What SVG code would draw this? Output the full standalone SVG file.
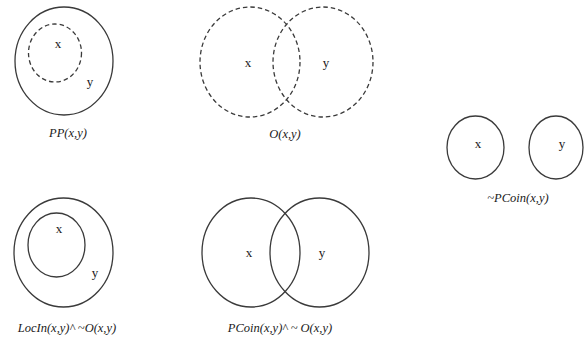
<svg xmlns="http://www.w3.org/2000/svg" width="585" height="338" viewBox="0 0 585 338">
<style>
.c{fill:none;stroke:#3a3a3a;stroke-width:1.3}
.d{stroke-dasharray:4.5 3}
.t{font-family:"Liberation Serif","Times New Roman",serif;font-size:13px;fill:#1a1a1a;text-anchor:middle}
.l{font-family:"Liberation Serif","Times New Roman",serif;font-size:12.5px;font-style:italic;fill:#1a1a1a;text-anchor:middle}
</style>
<rect width="585" height="338" fill="#fff"/>
<g id="pp">
<ellipse class="c" cx="64" cy="61" rx="49" ry="54"/>
<ellipse class="c d" cx="55" cy="53" rx="26.5" ry="29"/>
<text class="t" x="58" y="48">x</text>
<text class="t" x="90" y="86">y</text>
<text class="l" x="68" y="137">PP(x,y)</text>
</g>
<g id="o">
<ellipse class="c d" cx="250" cy="62" rx="50" ry="55"/>
<ellipse class="c d" cx="323" cy="62" rx="50" ry="55"/>
<text class="t" x="248" y="67">x</text>
<text class="t" x="326" y="67">y</text>
<text class="l" x="285" y="138">O(x,y)</text>
</g>
<g id="notpcoin">
<ellipse class="c" cx="475.5" cy="147.5" rx="28.5" ry="31.5"/>
<ellipse class="c" cx="556" cy="147.5" rx="27" ry="31.5"/>
<text class="t" x="478" y="148">x</text>
<text class="t" x="562" y="148">y</text>
<text class="l" x="518" y="202">~PCoin(x,y)</text>
</g>
<g id="locin">
<ellipse class="c" cx="63.5" cy="252.5" rx="49.5" ry="54.5"/>
<ellipse class="c" cx="56.5" cy="245" rx="28.5" ry="32"/>
<text class="t" x="59" y="233">x</text>
<text class="t" x="95" y="277">y</text>
<text class="l" x="67" y="332">LocIn(x,y)^ ~O(x,y)</text>
</g>
<g id="pcoin">
<ellipse class="c" cx="251" cy="252.5" rx="49" ry="54.5"/>
<ellipse class="c" cx="319.5" cy="252.5" rx="49.5" ry="54.5"/>
<text class="t" x="249" y="257">x</text>
<text class="t" x="322" y="257">y</text>
<text class="l" x="280" y="332">PCoin(x,y)^ ~ O(x,y)</text>
</g>
<g id="connectors"/>
</svg>
